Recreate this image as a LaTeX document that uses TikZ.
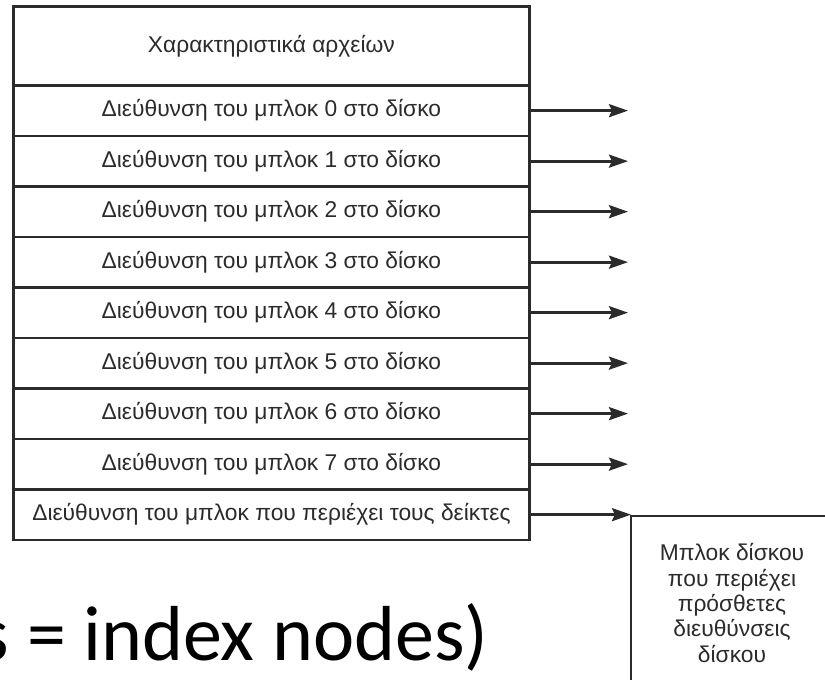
\documentclass[tikz,border=0pt]{standalone}
\usepackage{fontspec}
\setmainfont{Liberation Sans}
\newfontfamily\slidefont{Carlito}
\usepackage{tikz}
\usetikzlibrary{matrix,arrows.meta,positioning}
\usepackage{xcolor}
\definecolor{ink}{HTML}{2B2B2B}
\tikzset{
  cell/.style={draw=ink,line width=2.8pt,minimum width=516pt,minimum height=50.5pt,inner sep=0pt,outer sep=0pt,text=ink,font=\fontsize{22.8}{26}\selectfont},
  head/.style={minimum height=79pt},
  ptr/.style={draw=ink,line width=2.8pt,-{Stealth[length=19pt,width=13pt,inset=3pt]}}
}

\begin{document}
\begin{tikzpicture}[x=1pt,y=-1pt]
\clip (0,0) rectangle (825,680);
\matrix (T) [matrix of nodes,nodes={cell},row sep=-2.8pt,inner sep=0pt,outer sep=0pt,anchor=north west] at (12,5)
{ |[head]| Χαρακτηριστικά αρχείων\\
Διεύθυνση του μπλοκ 0 στο δίσκο\\
Διεύθυνση του μπλοκ 1 στο δίσκο\\
Διεύθυνση του μπλοκ 2 στο δίσκο\\
Διεύθυνση του μπλοκ 3 στο δίσκο\\
Διεύθυνση του μπλοκ 4 στο δίσκο\\
Διεύθυνση του μπλοκ 5 στο δίσκο\\
Διεύθυνση του μπλοκ 6 στο δίσκο\\
Διεύθυνση του μπλοκ 7 στο δίσκο\\
Διεύθυνση του μπλοκ που περιέχει τους δείκτες\\
};
\node (blk) [cell,minimum width=202pt,minimum height=174pt,anchor=north west,align=center,font=\fontsize{22.8}{25.3}\selectfont] at (631,516) {Μπλοκ δίσκου\\που περιέχει\\πρόσθετες\\διευθύνσεις\\δίσκου};
\coordinate (tip) at (628,0);
\foreach \row in {2,...,9}
  \draw[ptr] (T-\row-1.east) -- (T-\row-1.east -| tip);
\draw[ptr] (T-10-1.east) -- (T-10-1.east -| blk.north west);
\node (note) [anchor=base east,font=\slidefont\fontsize{78}{94}\selectfont] at (492,660) {s = index nodes)};
\end{tikzpicture}
\end{document}
